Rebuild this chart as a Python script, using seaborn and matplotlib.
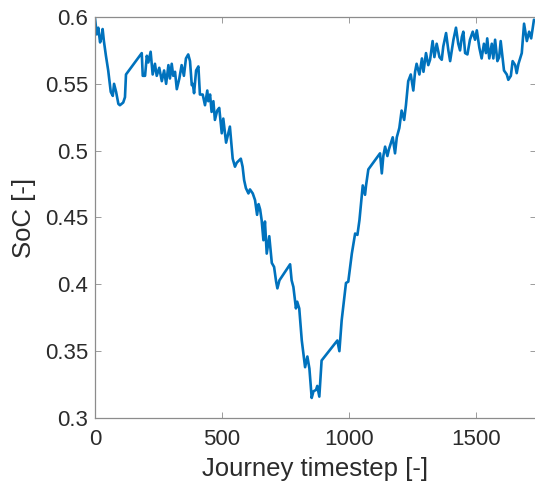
import matplotlib
matplotlib.use("Agg")
import matplotlib.pyplot as plt
import seaborn as sns
import pandas as pd

# Journey state-of-charge trace
timestep = [
    0, 7, 13, 20, 26, 30, 35, 43, 52, 62,
    70, 75, 83, 92, 98, 111, 118, 122, 184, 188,
    197, 204, 210, 219, 227, 236, 243, 253, 263, 272,
    280, 289, 295, 302, 308, 315, 322, 332, 341, 350,
    358, 367, 374, 381, 385, 390, 398, 407, 413, 424,
    433, 442, 446, 453, 459, 466, 472, 481, 489, 499,
    505, 516, 525, 531, 542, 551, 558, 574, 581, 587,
    594, 604, 610, 621, 630, 638, 644, 650, 656, 663,
    669, 676, 686, 696, 705, 713, 718, 726, 768, 774,
    781, 791, 796, 804, 814, 827, 836, 844, 853, 860,
    870, 875, 883, 892, 954, 962, 971, 988, 997, 1011,
    1024, 1033, 1041, 1054, 1063, 1067, 1076, 1122, 1129, 1135,
    1142, 1151, 1157, 1172, 1181, 1188, 1198, 1207, 1217, 1224,
    1233, 1243, 1253, 1260, 1266, 1277, 1287, 1293, 1303, 1312,
    1319, 1329, 1336, 1345, 1356, 1365, 1371, 1382, 1391, 1398,
    1411, 1421, 1430, 1437, 1444, 1450, 1457, 1466, 1476, 1487,
    1496, 1503, 1513, 1522, 1531, 1539, 1544, 1552, 1562, 1568,
    1575, 1584, 1591, 1597, 1605, 1610, 1621, 1627, 1637, 1644,
    1654, 1660, 1667, 1680, 1689, 1700, 1709, 1717, 1728,
]
soc = [
    0.599, 0.587, 0.592, 0.581, 0.585, 0.591, 0.582, 0.571, 0.560, 0.544,
    0.541, 0.550, 0.544, 0.535, 0.534, 0.536, 0.540, 0.557, 0.573, 0.556,
    0.556, 0.571, 0.566, 0.574, 0.557, 0.565, 0.556, 0.562, 0.552, 0.560,
    0.550, 0.564, 0.554, 0.565, 0.556, 0.559, 0.546, 0.554, 0.564, 0.556,
    0.569, 0.572, 0.567, 0.549, 0.550, 0.543, 0.560, 0.563, 0.542, 0.542,
    0.534, 0.545, 0.537, 0.542, 0.529, 0.537, 0.523, 0.530, 0.532, 0.513,
    0.524, 0.506, 0.513, 0.518, 0.494, 0.488, 0.491, 0.494, 0.488, 0.478,
    0.472, 0.468, 0.471, 0.468, 0.463, 0.452, 0.460, 0.456, 0.448, 0.433,
    0.447, 0.423, 0.436, 0.416, 0.413, 0.402, 0.397, 0.403, 0.415, 0.403,
    0.398, 0.382, 0.387, 0.382, 0.358, 0.338, 0.346, 0.337, 0.315, 0.320,
    0.321, 0.324, 0.316, 0.343, 0.358, 0.350, 0.373, 0.401, 0.402, 0.423,
    0.438, 0.437, 0.448, 0.474, 0.467, 0.474, 0.486, 0.498, 0.483, 0.496,
    0.503, 0.496, 0.501, 0.510, 0.498, 0.510, 0.517, 0.530, 0.523, 0.534,
    0.552, 0.557, 0.545, 0.559, 0.565, 0.557, 0.569, 0.559, 0.573, 0.564,
    0.568, 0.582, 0.570, 0.580, 0.570, 0.568, 0.578, 0.588, 0.575, 0.567,
    0.583, 0.592, 0.580, 0.575, 0.585, 0.589, 0.573, 0.572, 0.583, 0.589,
    0.583, 0.590, 0.577, 0.569, 0.580, 0.573, 0.584, 0.569, 0.580, 0.569,
    0.583, 0.567, 0.570, 0.582, 0.568, 0.560, 0.557, 0.553, 0.556, 0.567,
    0.564, 0.558, 0.565, 0.573, 0.595, 0.582, 0.589, 0.584, 0.598,
]

x_ticks = [0, 500, 1000, 1500]
y_ticks = [0.3, 0.35, 0.4, 0.45, 0.5, 0.55, 0.6]
y_tick_labels = ["0.3", "0.35", "0.4", "0.45", "0.5", "0.55", "0.6"]

df = pd.DataFrame({"Journey timestep [-]": timestep, "SoC [-]": soc})

sns.set_theme(style="white")
plt.rcParams["font.family"] = ["Liberation Sans", "DejaVu Sans"]

axis_color = "#2b2b2b"
edge_color = "#8c8c8c"

fig = plt.figure(figsize=(5.35, 4.94), dpi=100)
ax = fig.add_axes([95 / 535, 76 / 494, 441 / 535, 401 / 494])

sns.lineplot(data=df, x="Journey timestep [-]", y="SoC [-]", ax=ax,
             color="#0072BD", linewidth=1.9, sort=False)

ax.set_xlim(0, 1736)
ax.set_ylim(0.3, 0.6)
ax.set_xticks(x_ticks)
ax.set_xticklabels([str(t) for t in x_ticks])
ax.set_yticks(y_ticks)
ax.set_yticklabels(y_tick_labels)

ax.tick_params(axis="both", which="both", direction="in", length=4,
               width=0.6, color=edge_color, labelsize=16,
               labelcolor=axis_color,
               top=True, right=True, bottom=True, left=True)
ax.tick_params(axis="x", pad=8)
ax.tick_params(axis="y", pad=5)
for side in ["left", "bottom", "top", "right"]:
    ax.spines[side].set_visible(True)
    ax.spines[side].set_color(edge_color)
    ax.spines[side].set_linewidth(0.9)

ax.set_xlabel("Journey timestep [-]", fontsize=18.5, color=axis_color, labelpad=5)
ax.set_ylabel("SoC [-]", fontsize=18.5, color=axis_color, labelpad=6)
ax.grid(False)

fig.savefig("out.png", dpi=100)
